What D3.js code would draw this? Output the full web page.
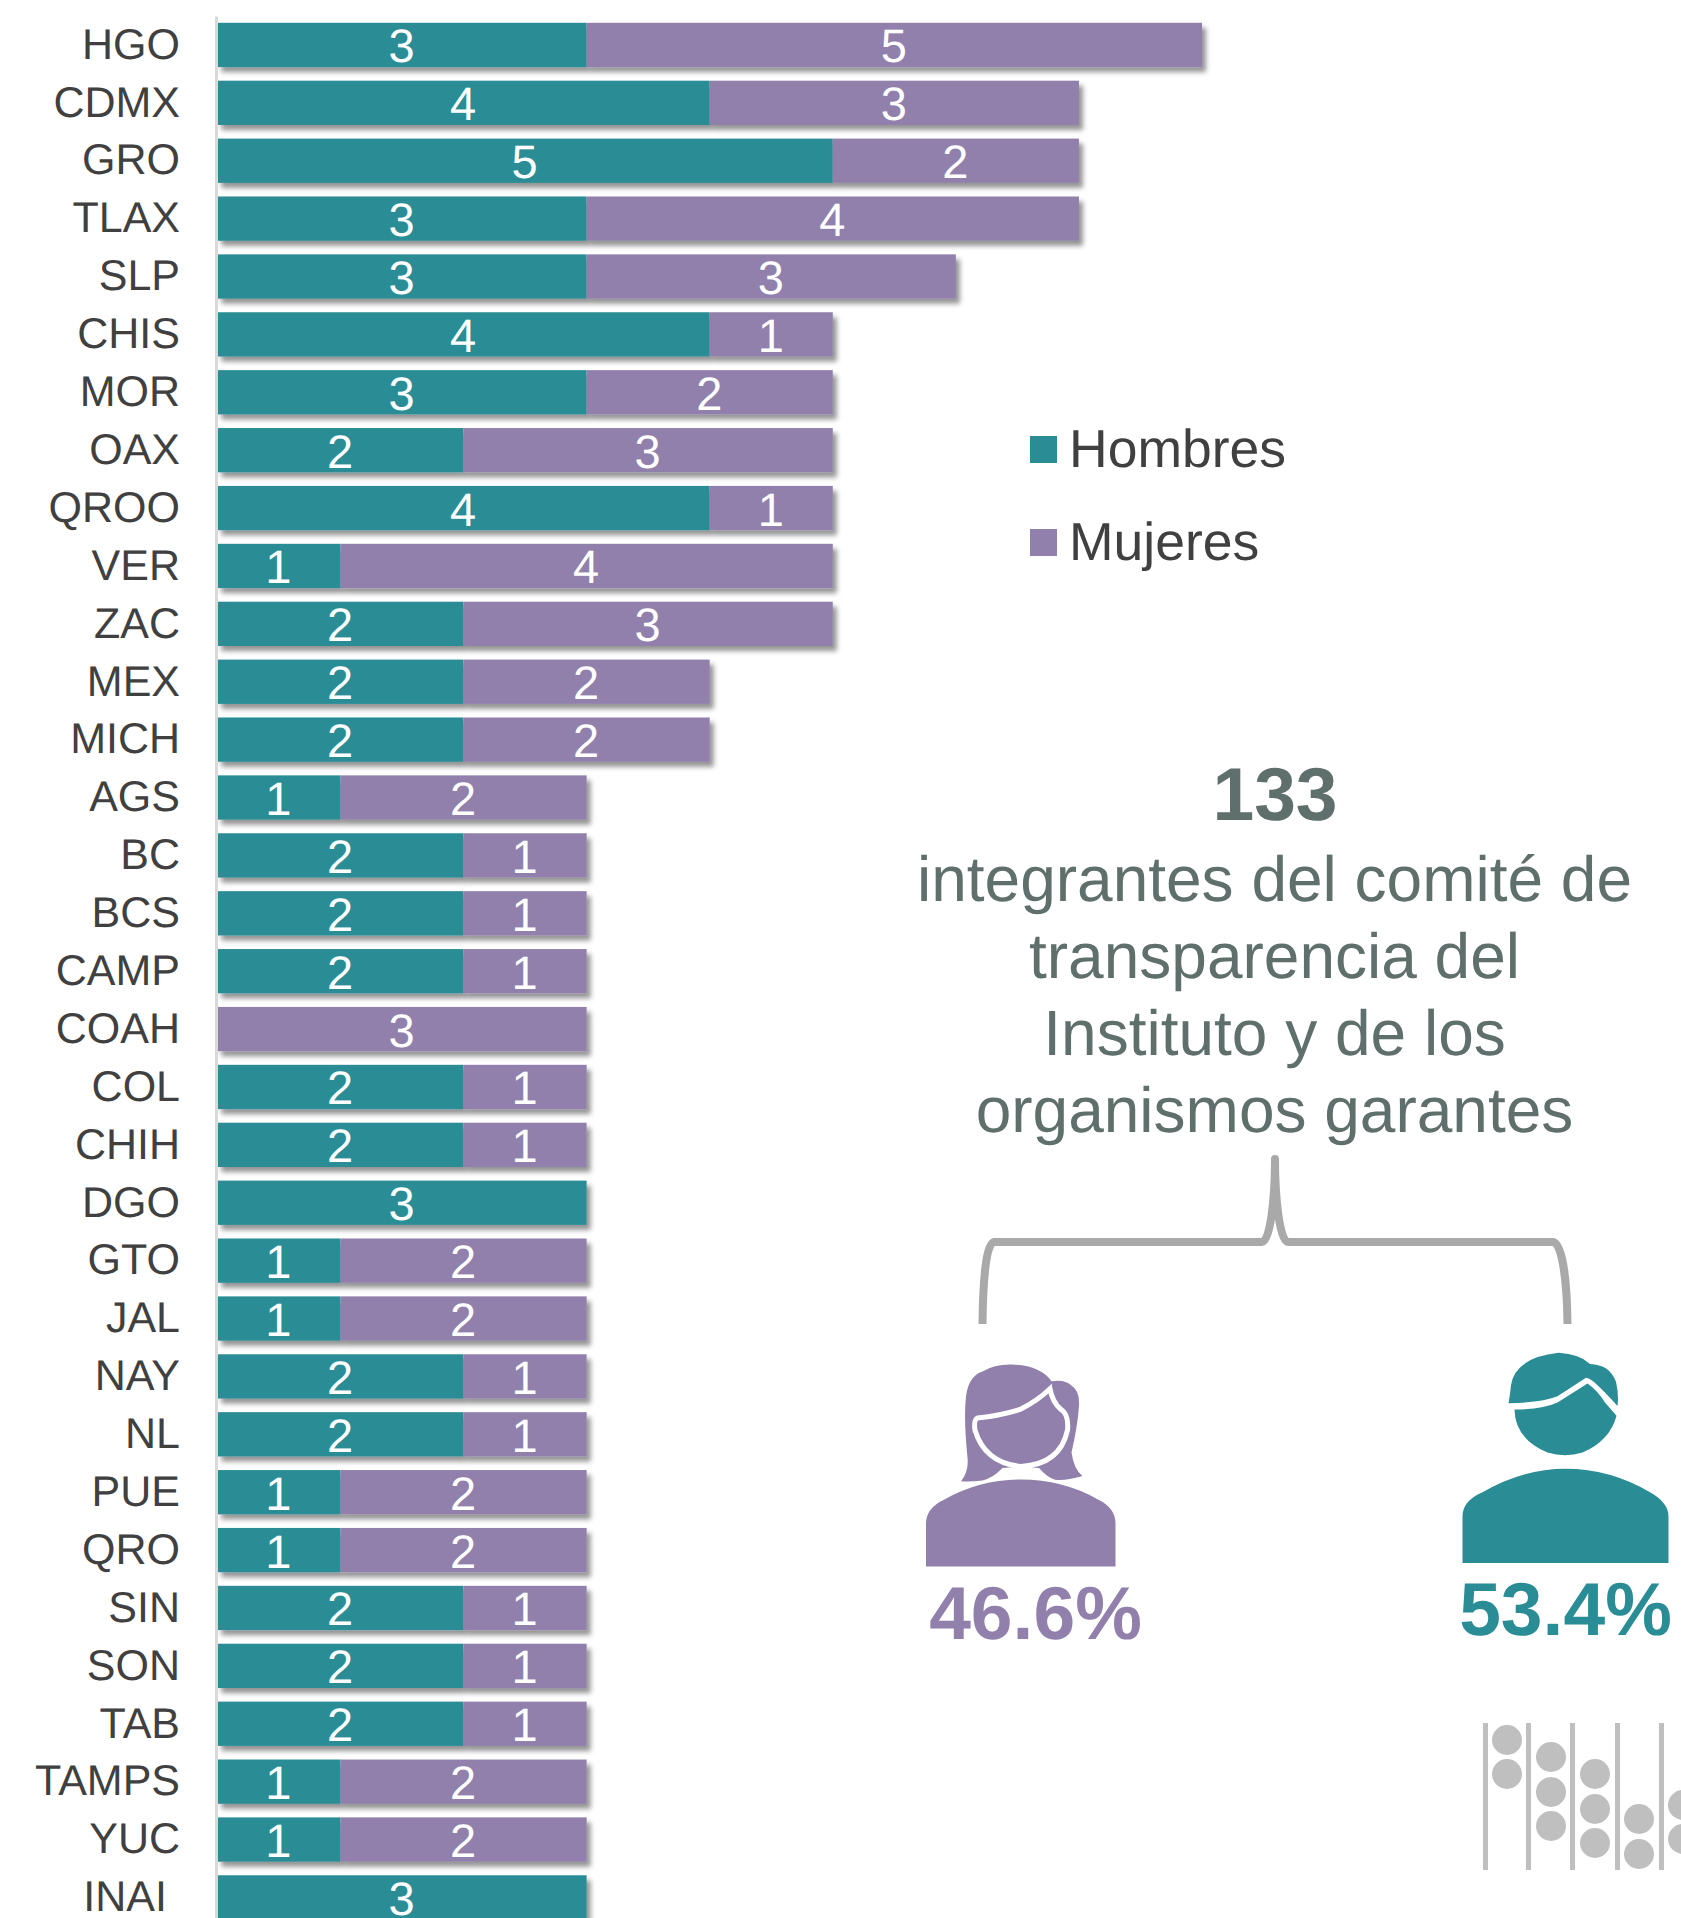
<!DOCTYPE html>
<html>
<head>
<meta charset="utf-8">
<title>Comité de transparencia</title>
<script src="https://cdn.jsdelivr.net/npm/d3@7"></script>
<style>
    html, body { margin: 0; padding: 0; background: #fff; }
    svg { display: block; font-family: "Liberation Sans", Arial, sans-serif; text-rendering: geometricPrecision; }
</style>
</head>
<body>
<div id="chart"></div>
<script>
// Data
const states = ['HGO','CDMX','GRO','TLAX','SLP','CHIS','MOR','OAX','QROO','VER','ZAC','MEX','MICH','AGS','BC','BCS','CAMP','COAH','COL','CHIH','DGO','GTO','JAL','NAY','NL','PUE','QRO','SIN','SON','TAB','TAMPS','YUC','INAI'];
const hombres = [3,4,5,3,3,4,3,2,4,1,2,2,2,1,2,2,2,0,2,2,3,1,1,2,2,1,1,2,2,2,1,1,3];
const mujeres = [5,3,2,4,3,1,2,3,1,4,3,2,2,2,1,1,1,3,1,1,0,2,2,1,1,2,2,1,1,1,2,2,0];
const seriesNames = ['Hombres', 'Mujeres'];
const seriesColors = ['#2a8d96', '#9080ab'];
const titleLines = ['integrantes del comité de', 'transparencia del', 'Instituto y de los', 'organismos garantes'];
const totalLabel = '133';
const pctMujeres = '46.6%';
const pctHombres = '53.4%';

const width = 1681, height = 1918;
const svg = d3.select('#chart').append('svg')
    .attr('width', width)
    .attr('height', height);

// Bar shadow
const filter = svg.append('defs').append('filter')
    .attr('id', 'barShadow')
    .attr('x', '-5%').attr('y', '-20%')
    .attr('width', '115%').attr('height', '160%');
filter.append('feDropShadow')
    .attr('dx', 4).attr('dy', 5)
    .attr('stdDeviation', 2.5)
    .attr('flood-color', '#000')
    .attr('flood-opacity', 0.42);

// Scales
const xScale = d3.scaleLinear().domain([0, 8]).range([217.4, 1202]);
const yScale = d3.scaleBand()
    .domain(states)
    .range([16, 16 + 33 * 57.89])
    .paddingInner(0.235)
    .paddingOuter(0.1175);

// Rows
const rows = svg.append('g').selectAll('g')
    .data(states)
    .enter()
    .append('g')
    .attr('filter', 'url(#barShadow)');

rows.append('rect')
    .attr('x', xScale(0))
    .attr('y', d => yScale(d))
    .attr('width', (d, i) => xScale(hombres[i]) - xScale(0))
    .attr('height', yScale.bandwidth())
    .attr('fill', seriesColors[0]);

rows.append('rect')
    .attr('x', (d, i) => xScale(hombres[i]))
    .attr('y', d => yScale(d))
    .attr('width', (d, i) => xScale(hombres[i] + mujeres[i]) - xScale(hombres[i]))
    .attr('height', yScale.bandwidth())
    .attr('fill', seriesColors[1]);

// Value labels
const labels = svg.append('g')
    .attr('fill', '#fff')
    .attr('font-size', 47)
    .attr('text-anchor', 'middle');

states.forEach((s, i) => {
    const yText = yScale(s) + yScale.bandwidth() / 2 + 17.5;
    if (hombres[i] > 0) {
        labels.append('text')
            .attr('x', xScale(hombres[i] / 2) - 0.5)
            .attr('y', yText)
            .text(hombres[i]);
    }
    if (mujeres[i] > 0) {
        labels.append('text')
            .attr('x', xScale(hombres[i] + mujeres[i] / 2) - 0.5)
            .attr('y', yText)
            .text(mujeres[i]);
    }
});

// Category axis
const axis = svg.append('g')
    .attr('transform', 'translate(216,0)')
    .call(d3.axisLeft(yScale).tickSize(0).tickPadding(36));
axis.select('.domain').attr('stroke', '#d9d9d9').attr('stroke-width', 3);
axis.selectAll('text')
    .attr('fill', '#404040')
    .attr('font-size', 43)
    .attr('font-family', '"Liberation Sans", Arial, sans-serif')
    .attr('dy', '0.32em');
// INAI sits a little further left in the original
axis.selectAll('text').filter(d => d === 'INAI').attr('dx', -13);

// Legend
const legend = svg.append('g');
seriesNames.forEach((name, i) => {
    const top = 436 + i * 93;
    legend.append('rect')
        .attr('x', 1030).attr('y', top)
        .attr('width', 27).attr('height', 27)
        .attr('fill', seriesColors[i]);
    legend.append('text')
        .attr('x', 1069).attr('y', top + 31)
        .attr('font-size', 53.5)
        .attr('fill', '#404040')
        .text(name);
});

// Headline text
const noteColor = '#5f6f6b';
svg.append('text')
    .attr('x', 1275).attr('y', 820)
    .attr('text-anchor', 'middle')
    .attr('font-size', 75)
    .attr('font-weight', 700)
    .attr('fill', noteColor)
    .text(totalLabel);

titleLines.forEach((line, i) => {
    svg.append('text')
        .attr('x', 1274.5).attr('y', 901 + i * 77)
        .attr('text-anchor', 'middle')
        .attr('font-size', 64)
        .attr('fill', noteColor)
        .text(line);
});

// Brace
svg.append('path')
    .attr('d', 'M982.5 1324 C983 1280 986 1243 994 1242 L1262 1242 C1270 1242 1275 1200 1275 1159 C1275 1200 1280 1242 1288 1242 L1553 1242 C1562 1243 1567 1280 1567.5 1324')
    .attr('fill', 'none')
    .attr('stroke', '#a9a9a9')
    .attr('stroke-width', 8)
    .attr('stroke-linejoin', 'round');

// Icons
const icons = svg.append('g').attr('transform', 'translate(900,1130) scale(0.5,0.345)');
const woman = icons.append('g').attr('fill', seriesColors[1]);
woman.append('path').attr('d', 'M52 1265 L52 1140 Q52 1095 90 1070 Q160 1013 242 1013 Q325 1013 395 1070 Q431 1095 431 1140 L431 1265 Z');
woman.append('path').attr('d', 'M122 1018 Q138 990 135 950 Q128 850 131 790 Q133 715 165 700 Q190 678 225 680 Q280 682 303 728 Q330 722 342 740 Q360 755 358 800 Q355 860 343 935 Q348 985 365 1003 Q330 1018 310 1014 Q295 1008 278 980 L242 975 L205 980 Q185 1010 165 1016 Q140 1020 122 1018 Z');
woman.append('path')
    .attr('d', 'M155 835 Q200 828 240 810 Q275 785 300 750 Q305 790 322 810 Q338 825 335 870 Q320 970 242 975 Q170 965 150 870 Q147 840 155 835 Z')
    .attr('stroke', '#fff')
    .attr('stroke-width', 5)
    .attr('vector-effect', 'non-scaling-stroke');

const man = icons.append('g').attr('fill', seriesColors[0]).attr('transform', 'translate(-5,0)');
man.append('path').attr('d', 'M1130 1255 L1130 1120 Q1130 1075 1170 1050 Q1250 982 1336 982 Q1425 982 1505 1050 Q1542 1080 1542 1120 L1542 1255 Z');
man.append('path').attr('d', 'M1222 792 Q1225 770 1227 740 Q1235 660 1322 646 Q1365 650 1385 678 Q1425 680 1437 730 Q1443 770 1440 800 Q1415 760 1400 740 Q1385 718 1377 718 L1320 772 Q1290 790 1222 792 Z');
man.append('path').attr('d', 'M1234 810 Q1290 810 1320 790 L1380 735 Q1400 755 1415 790 L1438 828 Q1425 900 1370 935 Q1335 950 1300 935 Q1235 895 1234 810 Z');

// Percentages
svg.append('text')
    .attr('x', 1035.5).attr('y', 1639)
    .attr('text-anchor', 'middle')
    .attr('font-size', 75)
    .attr('font-weight', 700)
    .attr('fill', seriesColors[1])
    .text(pctMujeres);
svg.append('text')
    .attr('x', 1565.5).attr('y', 1635)
    .attr('text-anchor', 'middle')
    .attr('font-size', 75)
    .attr('font-weight', 700)
    .attr('fill', seriesColors[0])
    .text(pctHombres);

// Abacus decoration at the corner
const abacusRails = [1483, 1526, 1570, 1615, 1659];
const abacusColumns = [
    { cx: 1507, beads: [1740, 1774] },
    { cx: 1551, beads: [1757, 1792, 1826] },
    { cx: 1595, beads: [1774, 1809, 1843] },
    { cx: 1639, beads: [1819, 1854] },
    { cx: 1683, beads: [1805, 1839] }
];
const abacus = svg.append('g').attr('fill', '#bfbfbf');
abacusRails.forEach(x => {
    abacus.append('rect').attr('x', x).attr('y', 1723).attr('width', 5).attr('height', 147);
});
abacusColumns.forEach(col => {
    col.beads.forEach(cy => {
        abacus.append('circle').attr('cx', col.cx).attr('cy', cy).attr('r', 15);
    });
});
</script>
</body>
</html>
